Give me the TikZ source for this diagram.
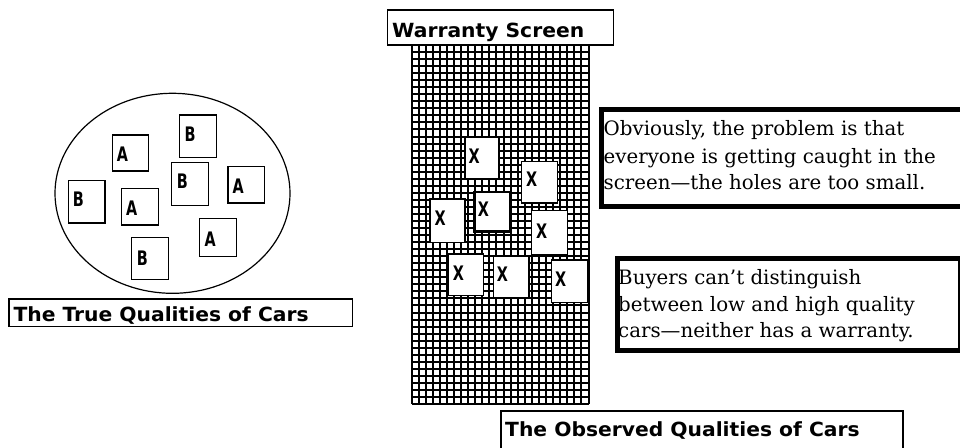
\documentclass[tikz,border=0pt]{standalone}
\usepackage{fontspec}
\usepackage{graphicx}
\usetikzlibrary{shapes.geometric}
\newfontfamily\chic{DejaVu Sans}
\newfontfamily\nyork{DejaVu Serif}
\tikzset{
  carbox/.style={draw, line width=1.3pt, fill=white, inner sep=0pt, anchor=north west},
  lab/.style={inner sep=0pt, anchor=base west, font=\chic\bfseries\fontsize{20}{20}\selectfont},
  titlebox/.style={draw, line width=1.5pt, fill=white, inner sep=0pt, anchor=north west},
  titletext/.style={inner sep=0pt, anchor=base west, font=\chic\bfseries\fontsize{19.5}{20}\selectfont},
  notebox/.style={draw, line width=5pt, fill=white, inner sep=0pt, anchor=north west},
  notetext/.style={inner sep=0pt, anchor=base west, font=\nyork\fontsize{19.8}{26}\selectfont},
  gridline/.style={line width=2pt},
}
\newcommand\carbx[8]{%
  \node[carbox, minimum width={#4-#2}, minimum height={#5-#3}] (#1) at (#2,#3) {};
  \node[lab] (#1l) at (#7,#8) {\scalebox{0.72}[1]{#6}};}
\begin{document}
\begin{tikzpicture}[x=1pt,y=-1pt]
\useasboundingbox[fill=white] (0,0) rectangle (960,447);
% left pool of cars
\node[draw, ellipse, line width=1.2pt, minimum width=235, minimum height=200, inner sep=0pt] (pool) at (172.5,193.3) {};
\carbx{a1}{111.7}{134.3}{147.7}{170.3}{A}{116.7}{161.7}
\carbx{b1}{179}{114.3}{215.7}{156.7}{B}{184.3}{141.7}
\carbx{b2}{171}{161.7}{207.7}{205}{B}{176.7}{188.3}
\carbx{a2}{227.3}{166}{264}{202.3}{A}{232.3}{193.3}
\carbx{b3}{67.7}{180}{104.3}{222.3}{B}{72.7}{206.7}
\carbx{a3}{121}{187.7}{157.7}{224.3}{A}{126}{215}
\carbx{a4}{199}{217.7}{235.7}{255.7}{A}{204.3}{246.7}
\carbx{b4}{131}{236.7}{167.7}{279}{B}{136.7}{265}
\node[titlebox, minimum width=343.4, minimum height=27.4] (truebox) at (8.3,298.3) {};
\node[titletext] (truetxt) at (13.3,321.7) {\scalebox{1.04}[1]{The True Qualities of Cars}};
% screen grid
\node[inner sep=0pt, minimum width=177, minimum height=359, anchor=north west] (screen) at (411.5,45) {};
\foreach \i in {0,...,25} \draw[gridline] ({411.5+\i*7.08},45) -- ({411.5+\i*7.08},404);
\foreach \j in {0,...,51} \draw[gridline] (411.5,{45+\j*7.04}) -- (588.5,{45+\j*7.04});
% caught cars
\carbx{x1}{464.3}{136.7}{498.3}{177.7}{X}{468.3}{163.3}
\carbx{x2}{521}{161}{556.7}{202.3}{X}{526}{186.7}
\node[carbox, line width=2.6pt, minimum width=35.7, minimum height=39.8] (x3) at (473,190.6) {};
\node[lab] (x3l) at (477.7,216.7) {\scalebox{0.72}[1]{X}};
\carbx{x4}{429.3}{198.3}{464.3}{241.7}{X}{434.3}{225}
\carbx{x5}{531}{210}{566.7}{254.3}{X}{536}{238.3}
\carbx{x6}{447.7}{253.3}{482.7}{295}{X}{452.7}{280}
\carbx{x7}{492.7}{256}{528.3}{297.3}{X}{496.7}{281.7}
\carbx{x8}{551}{259.3}{586.7}{301.7}{X}{555}{286.7}
% warranty label
\node[titlebox, minimum width=226, minimum height=35] (warbox) at (386.7,9.3) {};
\node[titletext] (wartxt) at (392,37) {\scalebox{1.04}[1]{Warranty Screen}};
% notes
\node[notebox, minimum width=366.5, minimum height=97] (note1) at (598.5,106.5) {};
\node[notetext] (n1a) at (603.5,135.5) {Obviously, the problem is that};
\node[notetext] (n1b) at (603.5,163) {everyone is getting caught in the};
\node[notetext] (n1c) at (603.5,189) {screen—the holes are too small.};
\node[notebox, minimum width=343, minimum height=92] (note2) at (614.5,255.5) {};
\node[notetext] (n2a) at (618,284) {Buyers can’t distinguish};
\node[notetext] (n2b) at (618,311) {between low and high quality};
\node[notetext] (n2c) at (618,337) {cars—neither has a warranty.};
% observed label
\node[titlebox, minimum width=402.3, minimum height=50] (obsbox) at (500,410) {};
\node[titletext] (obstxt) at (505,436) {\scalebox{1.04}[1]{The Observed Qualities of Cars}};
\end{tikzpicture}
\end{document}
